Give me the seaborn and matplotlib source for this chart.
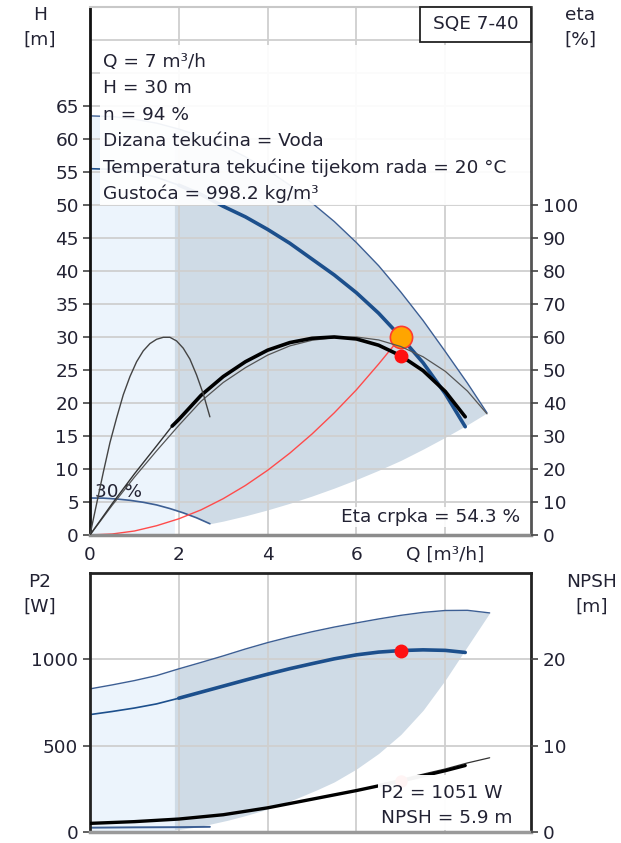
import numpy as np
import matplotlib
matplotlib.use("Agg")
import matplotlib.pyplot as plt
import seaborn as sns
from matplotlib.patches import Rectangle

# ---- data ----
# top panel: head curves, Q [m3/h] -> H [m]
q_hmax = [0, 0.5, 1, 1.5, 2, 2.5, 3, 3.5, 4, 4.5, 5, 5.5, 6, 6.5, 7, 7.5, 8, 8.5, 8.94]
h_hmax = [63.5, 63.4, 63.0, 62.4, 61.5, 60.4, 59.0, 57.3, 55.3, 53.0, 50.3, 47.5,
          44.3, 40.8, 36.8, 32.5, 27.8, 23.0, 18.5]

q_hop = [0, 0.5, 1, 1.5, 2, 2.5, 3, 3.5, 4, 4.5, 5, 5.5, 6, 6.5, 7, 7.5, 8, 8.45]
h_hop = [55.5, 55.4, 55.0, 54.2, 53.0, 51.6, 49.8, 48.2, 46.3, 44.2, 41.8, 39.4,
         36.7, 33.6, 30.0, 26.1, 21.4, 16.4]

q_h30 = [0, 0.3, 0.6, 0.9, 1.2, 1.5, 1.8, 2.1, 2.4, 2.7]
h_h30 = [5.6, 5.58, 5.45, 5.25, 4.95, 4.55, 4.0, 3.35, 2.6, 1.7]

# lower edge of the working range (top panel)
q_env_lo = [1.9, 2.14, 2.4, 2.7, 3.0, 3.5, 4.0, 4.5, 5.0, 5.5, 6.0, 6.5, 7.0, 7.5, 8.0, 8.5, 8.94]
h_env_lo = [3.8, 3.3, 2.6, 1.7, 2.1, 2.9, 3.8, 4.8, 5.9, 7.1, 8.4, 9.8, 11.3, 13.0, 14.8, 16.7, 18.5]

# system curve through the duty point
q_sys = [0, 0.5, 1, 1.5, 2, 2.5, 3, 3.5, 4, 4.5, 5, 5.5, 6, 6.5, 7]
h_sys = [0, 0.15, 0.6, 1.4, 2.45, 3.8, 5.5, 7.5, 9.8, 12.4, 15.3, 18.5, 22.0, 25.9, 30.0]

# efficiency curves, eta [%]
q_eta_op = [0, 0.5, 1, 1.5, 1.85, 2, 2.5, 3, 3.5, 4, 4.5, 5, 5.5, 6, 6.5, 7, 7.5, 8, 8.45]
eta_op = [0, 9.5, 18.5, 27, 33, 35, 42.3, 48, 52.5, 56, 58.3, 59.6, 60, 59.4, 57.5,
          54.3, 49.8, 43.5, 35.8]

q_eta_max = [0, 0.5, 1, 1.5, 2, 2.5, 3, 3.5, 4, 4.5, 5, 5.5, 6, 6.5, 7, 7.5, 8, 8.5, 8.94]
eta_max = [0, 9, 17.5, 25.5, 33.2, 40.5, 46.2, 50.7, 54.5, 57.3, 59, 59.8, 60, 59.1,
           57.1, 54, 49.6, 43.6, 36.7]

q_eta_30 = [0, 0.15, 0.3, 0.45, 0.6, 0.75, 0.9, 1.05, 1.2, 1.35, 1.5, 1.65, 1.8, 1.95,
            2.1, 2.25, 2.4, 2.55, 2.7]
eta_30 = [0, 9.5, 19, 28, 35.5, 42.5, 48, 52.5, 55.8, 58, 59.3, 59.9, 59.9, 58.8,
          56.6, 53.3, 48.5, 42.8, 35.8]

# bottom panel: power P2 [W]
q_p2max = [0, 0.5, 1, 1.5, 2, 2.5, 3, 3.5, 4, 4.5, 5, 5.5, 6, 6.5, 7, 7.5, 8, 8.5, 9.0]
p2_max = [829, 852, 877, 906, 945, 982, 1020, 1060, 1097, 1130, 1160, 1187, 1211,
          1234, 1255, 1272, 1283, 1284, 1269]

q_p2op = [0, 0.5, 1, 1.5, 2, 2.5, 3, 3.5, 4, 4.5, 5, 5.5, 6, 6.5, 7, 7.5, 8, 8.45]
p2_op = [680, 698, 718, 742, 775, 810, 845, 880, 914, 946, 975, 1003, 1026, 1042,
         1051, 1055, 1052, 1040]

q_p2_30 = [0, 1, 2, 2.7]
p2_30 = [25, 27, 28, 30]

q_p2_lo = [1.9, 2.3, 2.7, 3.1, 3.5, 3.9, 4.3, 4.7, 5.1, 5.5, 6.0, 6.5, 7.0, 7.5, 8.0, 8.5, 9.0]
p2_lo = [12, 25, 45, 68, 95, 125, 160, 200, 243, 290, 365, 455, 565, 705, 880, 1075, 1269]

# NPSH [m]
q_npsh = [0, 0.5, 1, 1.5, 2, 2.5, 3, 3.5, 4, 4.5, 5, 5.5, 6, 6.5, 7, 7.5, 8, 8.45]
npsh_op = [1.0, 1.1, 1.2, 1.35, 1.5, 1.75, 2.0, 2.4, 2.8, 3.3, 3.8, 4.3, 4.8, 5.35,
           5.9, 6.5, 7.1, 7.7]
q_npsh_max = [6.5, 7, 7.5, 8, 8.5, 9]
npsh_max = [5.5, 6.1, 6.7, 7.3, 8.0, 8.6]

duty_q, duty_h, duty_eta, duty_p2, duty_npsh = 7, 30, 54.3, 1051, 5.9
range_start = 1.9

info_lines = ["Q = 7 m³/h", "H = 30 m", "n = 94 %", "Dizana tekućina = Voda",
              "Temperatura tekućine tijekom rada = 20 °C", "Gustoća = 998.2 kg/m³"]

# ---- styling ----
sns.set_style("white")
plt.rcParams["font.family"] = ["DejaVu Sans"]
FS = 13.3
TXT = "#222233"
LIGHT = "#ecf4fc"
DARK = "#cfdbe6"
BLUE = "#1c4f8c"
BLUE_THIN = "#3d5f94"
GRID = "#cfcfcf"

fig = plt.figure(figsize=(6.21, 8.43), dpi=100)
ax = fig.add_axes([0.1449, 0.3654, 0.7101, 0.6263])
axb = fig.add_axes([0.1449, 0.01305, 0.7101, 0.3072])

# ================= top panel =================
ax.set_xlim(0, 9.93)
ax.set_ylim(0, 80)
qq = np.linspace(0, range_start, 60)
ax.fill_between(qq, 0, np.interp(qq, q_hmax, h_hmax), color=LIGHT, lw=0, zorder=0)
qd = np.linspace(range_start, q_hmax[-1], 300)
ax.fill_between(qd, np.interp(qd, q_env_lo, h_env_lo), np.interp(qd, q_hmax, h_hmax),
                color=DARK, lw=0, zorder=0)

ax.set_axisbelow(True)
ax.set_xticks([0, 2, 4, 6, 8])
ax.set_xticklabels(["0", "2", "4", "6", "Q [m³/h]"])
ax.set_yticks(np.arange(0, 66, 5))
ax.set_yticks([70, 75], minor=True)
ax.grid(True, which="both", color=GRID, lw=1.3)
ax.tick_params(axis="both", labelsize=FS, labelcolor=TXT, length=5, width=1.2,
               direction="out", color="#444444", pad=3)
ax.tick_params(axis="y", which="minor", length=0)
ax.tick_params(axis="y", left=True)
ax.tick_params(axis="x", bottom=False)

sns.lineplot(x=q_hmax, y=h_hmax, ax=ax, color=BLUE_THIN, lw=1.0, sort=False)
sns.lineplot(x=q_hop, y=h_hop, ax=ax, color=BLUE, lw=1.2, sort=False)
mask = np.array(q_hop) >= range_start
sns.lineplot(x=np.array(q_hop)[mask], y=np.array(h_hop)[mask], ax=ax, color=BLUE, lw=2.6, sort=False)
sns.lineplot(x=q_h30, y=h_h30, ax=ax, color=BLUE_THIN, lw=1.2, sort=False)
sns.lineplot(x=q_sys, y=h_sys, ax=ax, color="#ff4b4b", lw=1.0, sort=False)
ax.plot([duty_q], [duty_h], "o", ms=16, mfc="#ffa500", mec="#ff3b30", mew=1.2, zorder=6)
ax.text(0.12, 5.8, "30 %", fontsize=FS, color=TXT, zorder=4)

# info text box
ax.add_patch(Rectangle((0.023, 0.625), 0.975, 0.303, transform=ax.transAxes,
                       facecolor="white", edgecolor="none", alpha=0.93, zorder=7))
for i, line in enumerate(info_lines):
    ax.text(0.03, 0.8958 - i * 0.05, line, transform=ax.transAxes, fontsize=FS,
            color=TXT, va="center", ha="left", zorder=8)
ax.add_patch(Rectangle((0.748, 0.934), 0.252, 0.066, transform=ax.transAxes,
                       facecolor="white", edgecolor="#222222", lw=1.3, zorder=8, clip_on=False))
ax.text(0.874, 0.967, "SQE 7-40", transform=ax.transAxes, fontsize=FS, color=TXT,
        ha="center", va="center", zorder=9)

ax.spines["left"].set_color("#111111")
ax.spines["left"].set_linewidth(2)
ax.spines["bottom"].set_color("#8c8c8c")
ax.spines["bottom"].set_linewidth(2.5)
ax.spines["top"].set_color("#c8c8c8")
ax.spines["top"].set_linewidth(1.5)
ax.spines["right"].set_color("#555555")
ax.spines["right"].set_linewidth(2)

ax_eta = ax.twinx()
ax_eta.set_ylim(0, 160)
ax_eta.set_yticks(np.arange(0, 101, 10))
ax_eta.tick_params(axis="y", labelsize=FS, labelcolor=TXT, length=5, width=1.2,
                   color="#444444", right=True, direction="out")
for s in ax_eta.spines.values():
    s.set_visible(False)
sns.lineplot(x=q_eta_max, y=eta_max, ax=ax_eta, color="#555555", lw=0.9, sort=False)
sns.lineplot(x=q_eta_op, y=eta_op, ax=ax_eta, color="#333333", lw=1.0, sort=False)
mask = np.array(q_eta_op) >= 1.85
sns.lineplot(x=np.array(q_eta_op)[mask], y=np.array(eta_op)[mask], ax=ax_eta,
             color="black", lw=2.6, sort=False)
sns.lineplot(x=q_eta_30, y=eta_30, ax=ax_eta, color="#444444", lw=1.0, sort=False)
ax_eta.plot([duty_q], [duty_eta], "o", ms=9, color="#ff1010", zorder=6)
ax_eta.text(0.975, 0.034, "Eta crpka = 54.3 %", transform=ax_eta.transAxes,
            fontsize=FS, color=TXT, ha="right", va="center",
            bbox=dict(facecolor="white", edgecolor="none", pad=1, alpha=0.9))
ax_eta.set_ylabel("")

# ================= bottom panel =================
axb.set_xlim(0, 9.93)
axb.set_ylim(0, 1500)
qq = np.linspace(0, range_start, 60)
axb.fill_between(qq, 0, np.interp(qq, q_p2max, p2_max), color=LIGHT, lw=0, zorder=0)
qd = np.linspace(range_start, q_p2max[-1], 300)
axb.fill_between(qd, np.interp(qd, q_p2_lo, p2_lo), np.interp(qd, q_p2max, p2_max),
                 color=DARK, lw=0, zorder=0)
axb.set_axisbelow(True)
axb.set_xticks([0, 2, 4, 6, 8])
axb.set_xticklabels([])
axb.set_yticks([0, 500, 1000])
axb.grid(True, color=GRID, lw=1.3)
axb.tick_params(axis="both", labelsize=FS, labelcolor=TXT, length=5, width=1.2,
                color="#444444", direction="out")
axb.tick_params(axis="x", bottom=False)
axb.tick_params(axis="y", left=True)

sns.lineplot(x=q_p2max, y=p2_max, ax=axb, color=BLUE_THIN, lw=1.0, sort=False)
sns.lineplot(x=q_p2op, y=p2_op, ax=axb, color=BLUE, lw=1.2, sort=False)
mask = np.array(q_p2op) >= range_start
sns.lineplot(x=np.array(q_p2op)[mask], y=np.array(p2_op)[mask], ax=axb, color=BLUE, lw=2.6, sort=False)
sns.lineplot(x=q_p2_30, y=p2_30, ax=axb, color=BLUE_THIN, lw=1.4, sort=False)
axb.plot([duty_q], [duty_p2], "o", ms=9, color="#ff1010", zorder=6)

for name, s in axb.spines.items():
    s.set_color("#222222")
    s.set_linewidth(2)
axb.spines["bottom"].set_color("#9a9a9a")
axb.spines["bottom"].set_linewidth(2.5)

ax_np = axb.twinx()
ax_np.set_ylim(0, 30)
ax_np.set_yticks([0, 10, 20])
ax_np.tick_params(axis="y", labelsize=FS, labelcolor=TXT, length=5, width=1.2,
                  color="#444444", right=True, direction="out")
for s in ax_np.spines.values():
    s.set_visible(False)
sns.lineplot(x=q_npsh_max, y=npsh_max, ax=ax_np, color="#333333", lw=0.9, sort=False)
sns.lineplot(x=q_npsh, y=npsh_op, ax=ax_np, color="black", lw=2.4, sort=False)
ax_np.plot([duty_q], [duty_npsh], "o", ms=8, color="#ff1010", zorder=3)
ax_np.add_patch(Rectangle((0.653, 0.007), 0.33, 0.212, transform=ax_np.transAxes,
                          facecolor="white", edgecolor="none", alpha=0.96, zorder=7))
ax_np.text(0.66, 0.151, "P2 = 1051 W", transform=ax_np.transAxes, fontsize=FS,
           color=TXT, va="center", zorder=8)
ax_np.text(0.66, 0.054, "NPSH = 5.9 m", transform=ax_np.transAxes, fontsize=FS,
           color=TXT, va="center", zorder=8)
ax_np.set_ylabel("")

# axis titles
fig.text(40 / 621, 1 - 6 / 843, "H\n[m]", ha="center", va="top", fontsize=FS, color=TXT, linespacing=1.5)
fig.text(580 / 621, 1 - 6 / 843, "eta\n[%]", ha="center", va="top", fontsize=FS, color=TXT, linespacing=1.5)
fig.text(40 / 621, 1 - 573 / 843, "P2\n[W]", ha="center", va="top", fontsize=FS, color=TXT, linespacing=1.5)
fig.text(592 / 621, 1 - 573 / 843, "NPSH\n[m]", ha="center", va="top", fontsize=FS, color=TXT, linespacing=1.5)

fig.savefig("out.png", dpi=100, facecolor="white")
